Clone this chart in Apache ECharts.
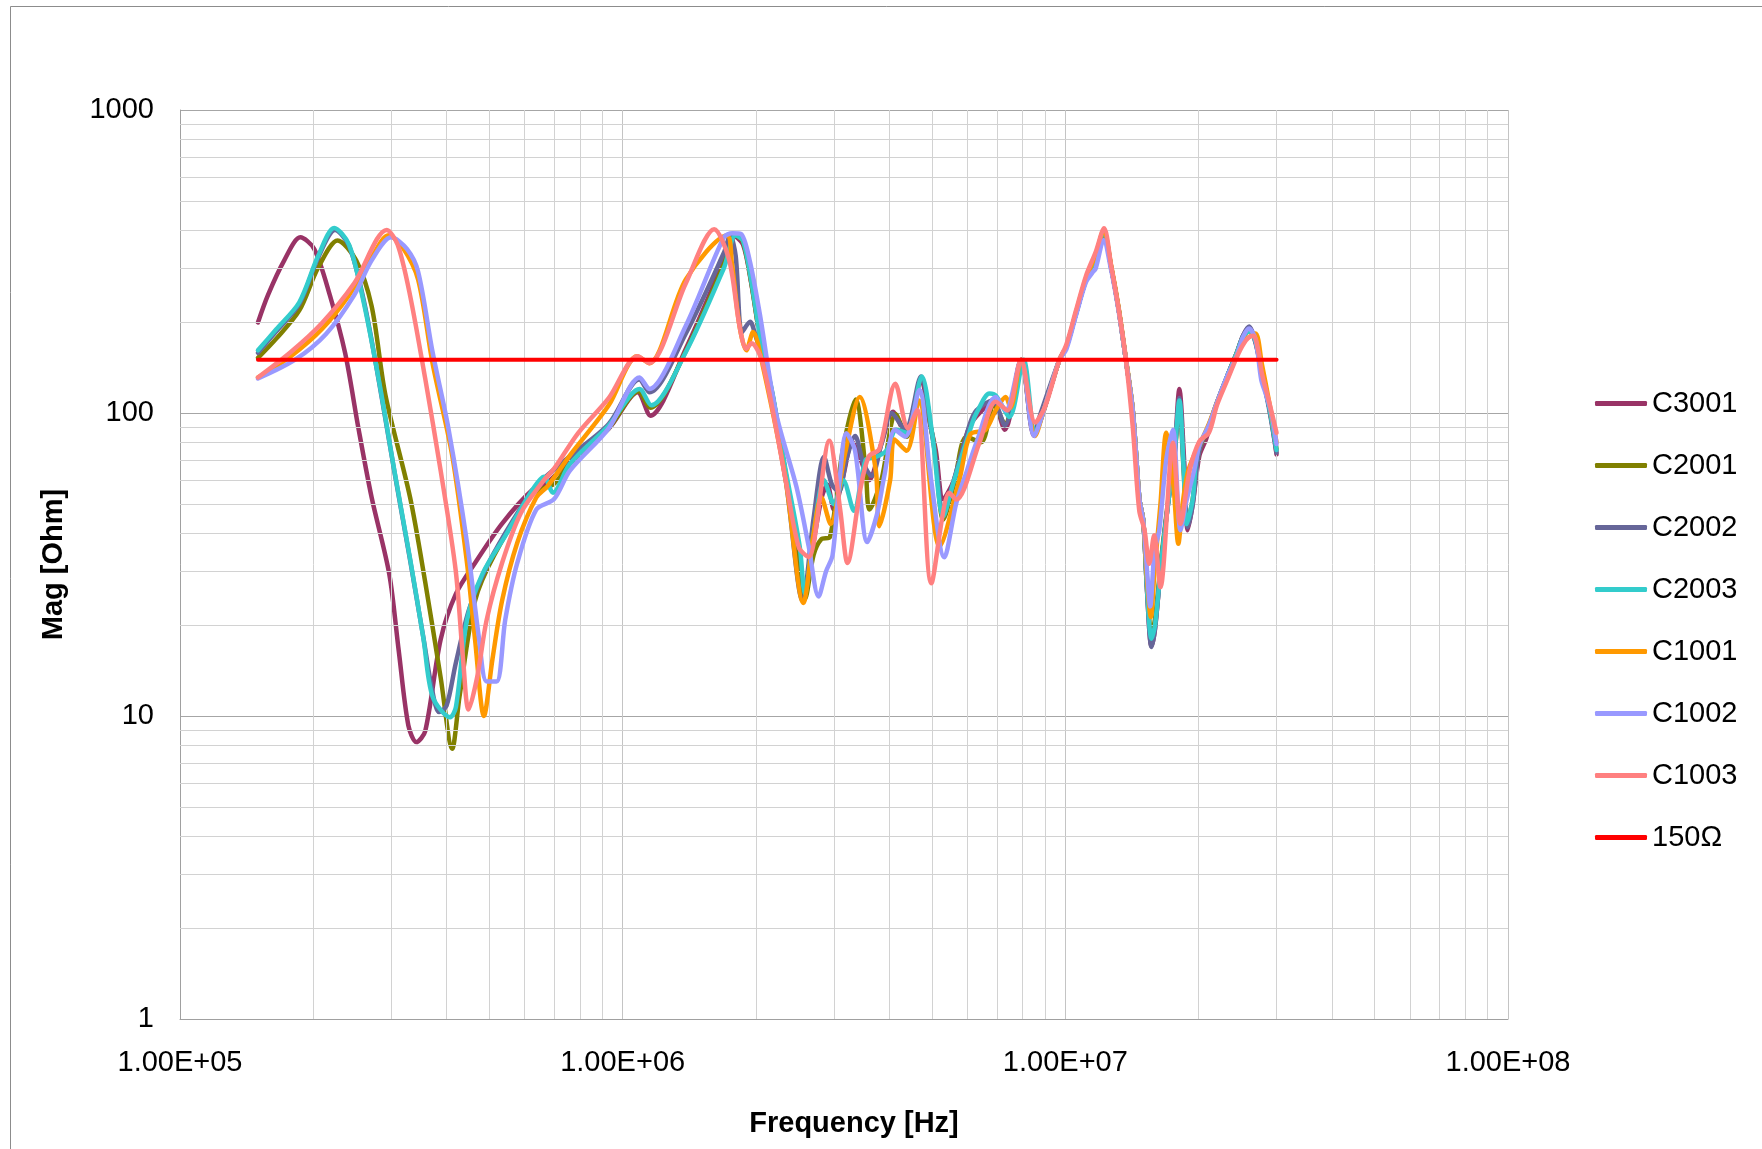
<!DOCTYPE html>
<html>
<head>
<meta charset="utf-8">
<script src="https://cdn.jsdelivr.net/npm/echarts@6/dist/echarts.min.js"></script>
<style>
html,body{margin:0;padding:0;background:#fff;}
#chart{width:1762px;height:1149px;}
</style>
</head>
<body>
<div id="chart"></div>
<script>
// Frequencies in MHz, magnitudes in Ohm
const seriesNames = ['C3001','C2001','C2002','C2003','C1001','C1002','C1003','150Ω'];

const C3001 = [[0.15,199],[0.158,245],[0.172,319],[0.187,380],[0.201,348],[0.218,245],[0.236,158],[0.253,89],[0.271,52.6],[0.297,29.4],[0.312,16.4],[0.328,9.3],[0.342,8.2],[0.358,8.9],[0.388,17.9],[0.42,25.3],[0.464,32],[0.533,43],[0.625,55.7],[0.677,59],[0.76,70],[0.93,88.7],[1.081,117],[1.155,98],[1.389,163],[1.693,319],[1.78,385],[1.87,360],[1.95,270],[2.05,172],[2.18,114],[2.32,67],[2.48,36],[2.56,24.5],[2.64,30],[2.72,40],[2.82,53],[2.9,58],[3.0,48],[3.15,62],[3.3,80],[3.45,70],[3.6,60],[3.85,80],[4.08,101],[4.35,86],[4.72,126],[4.98,88],[5.1,75],[5.3,52],[5.6,60],[6.07,90],[6.4,100],[6.85,108],[7.3,88],[7.95,150],[8.5,84],[8.9,100],[9.7,150],[10.05,165],[10.57,213],[11.13,275],[11.71,328],[12.2,395],[12.7,300],[13.2,219],[13.7,150],[14.2,102],[14.7,52],[15.0,44],[15.3,25.7],[15.65,17],[15.95,19.5],[16.5,33],[17.2,55],[17.6,70],[18.1,120],[18.55,70],[18.9,41],[19.4,50],[20.07,72],[20.8,82],[22.0,108],[23.2,132],[24.4,158],[25.2,180],[26.0,192],[26.9,170],[27.8,135],[28.9,104],[30.0,73]];

const C2001 = [[0.15,152],[0.165,176],[0.186,218],[0.205,301],[0.227,371],[0.25,319],[0.271,225],[0.291,115],[0.331,52.6],[0.358,27.7],[0.388,13.4],[0.412,7.8],[0.428,11.6],[0.464,24],[0.513,34],[0.625,54],[0.70,58.4],[0.76,68],[0.93,89],[1.085,118],[1.155,104],[1.389,160],[1.693,310],[1.8,385],[1.87,368],[1.95,272],[2.05,173],[2.18,115],[2.32,66],[2.48,35],[2.58,24.3],[2.7,34],[2.81,38.3],[2.94,39],[3.14,75],[3.36,110.7],[3.54,64.8],[3.61,48],[3.84,60],[4.14,99],[4.39,83.5],[4.67,119],[5.03,81.7],[5.3,44.5],[5.6,58],[5.98,83.5],[6.45,80],[6.9,106],[7.3,92],[7.95,150],[8.5,85],[8.9,100],[9.7,150],[10.05,165],[10.57,213],[11.13,275],[11.71,328],[12.2,398],[12.7,302],[13.2,219],[13.7,150],[14.2,102],[14.7,52],[15.0,44],[15.3,27],[15.65,18.5],[15.95,21],[16.5,34],[17.2,56],[17.6,70],[18.1,105],[18.5,65],[18.85,43],[19.4,52],[20.07,75],[21.1,90],[22.0,108],[23.2,132],[24.4,158],[25.2,178],[26.0,186],[26.9,175],[27.8,135],[28.9,104],[30.0,76]];

const C2002 = [[0.15,158],[0.165,186],[0.186,229],[0.205,325],[0.224,402],[0.241,356],[0.261,230],[0.282,125],[0.305,64],[0.33,33.5],[0.355,18],[0.37,12.5],[0.385,10.3],[0.40,10.8],[0.42,15],[0.45,22.5],[0.49,30.5],[0.545,40.5],[0.625,55.5],[0.665,61],[0.76,72],[0.93,92],[1.09,129],[1.15,117],[1.389,183],[1.693,338],[1.75,385],[1.80,330],[1.86,185],[1.94,200],[2.0,178],[2.075,150],[2.335,60],[2.55,24],[2.7,45],[2.85,71.6],[2.97,58],[3.08,55],[3.2,70],[3.35,84],[3.5,68],[3.65,62],[3.85,80],[4.05,100],[4.35,88],[4.72,132],[4.98,88],[5.1,70],[5.3,46],[5.6,60],[6.07,91],[6.3,102],[6.85,110],[7.3,91],[7.95,150],[8.5,86],[8.8,100],[9.7,150],[10.05,165],[10.57,213],[11.13,275],[11.71,328],[12.2,392],[12.7,300],[13.2,219],[13.7,150],[14.2,102],[14.7,52],[15.0,44],[15.3,25.7],[15.65,16.9],[15.95,19.5],[16.5,33],[17.2,55],[17.6,68],[18.1,112],[18.5,68],[18.9,42],[19.4,50],[20.07,75],[21.1,91],[22.0,108],[23.2,132],[24.4,158],[25.2,180],[26.0,193],[26.9,172],[27.8,135],[28.9,102],[30.0,74]];

const C2003 = [[0.15,161],[0.165,189],[0.186,232],[0.205,329],[0.223,408],[0.241,359],[0.26,232],[0.282,126],[0.305,64.5],[0.331,33],[0.355,17.9],[0.372,11.6],[0.4075,9.9],[0.42,10.7],[0.445,20.8],[0.482,29.4],[0.543,39.3],[0.625,55.7],[0.664,61.6],[0.696,54.6],[0.76,68],[0.93,91],[1.092,120],[1.16,106],[1.389,159],[1.693,301],[1.80,385],[1.87,370],[1.95,275],[2.05,174],[2.18,116],[2.32,68],[2.51,36.5],[2.58,25.3],[2.7,40],[2.85,60],[3.0,50],[3.15,60],[3.33,47.6],[3.54,70],[3.73,71.6],[3.94,75],[4.15,88],[4.38,86],[4.74,132],[5.0,86],[5.3,45.5],[5.57,58],[6.17,93],[6.3,100],[6.74,116],[6.97,114],[7.48,97],[8.05,150],[8.55,86],[8.9,100],[9.7,150],[10.05,165],[10.57,213],[11.13,275],[11.71,328],[12.2,396],[12.7,302],[13.2,219],[13.7,150],[14.2,102],[14.7,52],[15.0,44],[15.3,26],[15.65,18],[15.95,20],[16.5,33],[17.2,55],[17.6,70],[18.1,110],[18.5,66],[18.8,43],[19.4,52],[19.7,68],[20.07,78],[21.1,91],[22.0,108],[23.2,132],[24.4,158],[25.2,178],[26.0,186],[26.9,172],[27.8,135],[28.9,104],[30.0,75.5]];

const C1001 = [[0.15,131],[0.178,154],[0.209,189],[0.241,245],[0.266,310],[0.296,386],[0.318,353],[0.345,276],[0.372,146],[0.412,72.5],[0.445,32],[0.464,17.9],[0.486,10],[0.508,15.4],[0.534,24],[0.578,37.3],[0.638,52.6],[0.677,57.4],[0.76,72.5],[0.93,106],[1.078,154],[1.148,146],[1.389,276],[1.72,385],[1.765,312],[1.837,193],[1.903,161],[1.97,185],[2.075,142],[2.335,60],[2.56,23.6],[2.7,40],[2.81,52.7],[2.95,43],[3.18,73.6],[3.43,113],[3.73,64.8],[3.80,42.3],[4.02,60],[4.11,81.7],[4.38,75],[4.67,110],[5.2,36.3],[5.76,60],[6.1,85],[6.6,88],[6.96,102],[7.33,113],[7.52,104],[7.94,150],[8.55,84],[8.9,100],[9.7,150],[10.05,165],[10.57,215],[11.13,278],[11.71,332],[12.2,400],[12.7,305],[13.2,222],[13.7,152],[14.2,103],[14.7,52],[15.0,44],[15.3,28],[15.6,21.2],[15.9,30],[16.4,50],[16.9,86],[17.3,70],[17.6,55],[18.0,37],[18.4,50],[18.9,63.5],[19.5,72],[20.07,78],[21.1,92],[22.0,108],[23.2,130],[24.4,155],[25.2,172],[26.0,178],[26.9,183],[27.8,145],[28.9,108],[30.0,80]];

const C1002 = [[0.15,130],[0.182,150],[0.2135,182],[0.2475,245],[0.271,319],[0.30,380],[0.3255,348],[0.345,293],[0.372,159],[0.404,89],[0.445,37.3],[0.474,17.9],[0.493,13],[0.519,13],[0.543,20.8],[0.578,32],[0.638,48],[0.70,52],[0.76,64.5],[0.93,89],[1.092,131],[1.148,120],[1.389,194],[1.693,380],[1.77,392],[1.85,390],[1.935,320],[2.04,213],[2.22,100],[2.47,57],[2.63,36.5],[2.77,24.8],[2.88,30],[2.98,34],[3.09,60],[3.20,85.8],[3.35,75],[3.57,37.5],[3.75,46],[3.9,62],[4.12,88],[4.35,83.5],[4.68,119],[4.95,63.5],[5.33,33.4],[5.67,50.4],[6.0,64.8],[6.3,80],[6.96,113],[7.33,102],[7.94,150],[8.5,84],[8.9,100],[9.7,150],[10.05,162],[10.57,210],[11.13,270],[11.5,290],[11.71,300],[12.2,372],[12.7,295],[13.2,216],[13.7,150],[14.2,102],[14.7,52],[15.0,44],[15.3,30],[15.55,23],[15.9,35],[16.3,41],[16.9,70],[17.5,88],[18.2,41],[18.7,50],[19.6,66],[20.07,78],[21.1,91],[22.0,108],[23.2,132],[24.4,155],[25.2,178],[26.0,190],[26.9,175],[27.7,129],[28.4,115],[29.2,100],[30.0,79]];

const C1003 = [[0.15,131],[0.178,159],[0.2086,197],[0.2475,268],[0.2932,402],[0.3103,359],[0.3308,245],[0.358,130],[0.388,64.5],[0.4195,30.3],[0.436,15.4],[0.4485,10.5],[0.469,13.4],[0.493,20.8],[0.534,32],[0.589,46.8],[0.664,60],[0.70,65.5],[0.794,86],[0.93,112],[1.081,154],[1.148,146],[1.389,268],[1.61,404],[1.74,320],[1.837,193],[1.903,163],[1.955,170],[2.075,145],[2.335,60],[2.50,36],[2.63,33.5],[2.93,81],[3.10,48],[3.22,32],[3.45,57],[3.6,72],[3.8,76],[4.13,125],[4.41,89],[4.63,102.5],[4.98,27.4],[5.47,54.5],[5.67,51.8],[6.4,80],[6.96,109],[7.4,102],[7.94,150],[8.55,93],[9.0,105],[9.7,150],[10.05,168],[10.57,218],[11.13,283],[11.71,340],[12.23,407],[12.7,304],[13.2,219],[13.7,150],[14.2,90],[14.69,47.6],[15.1,41],[15.47,31.8],[15.87,39.5],[16.4,26.6],[17.5,79.7],[18.2,43],[19.1,64.8],[20.07,80.5],[21.1,86],[22.0,106],[23.2,128],[24.4,153],[25.2,168],[26.0,178],[26.6,180],[27.3,160],[27.8,135],[28.9,108],[30.0,86]];

const LIMIT = [[0.15,150],[30.0,150]];

const seriesData = [C3001, C2001, C2002, C2003, C1001, C1002, C1003, LIMIT];
const seriesColors = ['#993366','#808000','#666699','#33CCCC','#FF9900','#9999FF','#FF8080','#FF0000'];

const xDecades = [1e5, 1e6, 1e7];
const yDecades = [1, 10, 100];

const FONT = 'Liberation Sans, Arial, sans-serif';

const chart = echarts.init(document.getElementById('chart'), null, {renderer: 'canvas'});

const minorLines = [];
xDecades.forEach(d => { for (let k = 2; k <= 9; k++) minorLines.push({xAxis: k * d}); });
yDecades.forEach(d => { for (let k = 2; k <= 9; k++) minorLines.push({yAxis: k * d}); });

const series = [{
  name: '_grid', type: 'line', data: [], z: 1, silent: true,
  markLine: {
    silent: true, symbol: ['none', 'none'], animation: false,
    label: {show: false},
    lineStyle: {type: 'solid', color: '#d2d2d2', width: 1},
    emphasis: {disabled: true},
    data: minorLines
  }
}];

seriesNames.forEach((n, i) => {
  const isLimit = i === seriesNames.length - 1;
  series.push({
    name: n,
    type: 'line',
    data: seriesData[i].map(p => [p[0] * 1e6, p[1]]),
    showSymbol: false,
    symbol: 'none',
    smooth: isLimit ? false : 0.3,
    z: 3 + i,
    color: seriesColors[i],
    lineStyle: {width: isLimit ? 4 : 4.5, color: seriesColors[i], cap: 'round', join: 'round'},
    emphasis: {disabled: true},
    animation: false
  });
});

function expLabel(v) {
  const e = Math.round(Math.log10(v));
  const m = v / Math.pow(10, e);
  return m.toFixed(2) + 'E+' + String(e).padStart(2, '0');
}

chart.setOption({
  backgroundColor: '#ffffff',
  animation: false,
  graphic: [{
    type: 'rect', silent: true,
    shape: {x: 10.5, y: 6.5, width: 1800, height: 1200},
    style: {fill: 'none', stroke: '#8c8c8c', lineWidth: 1},
    z: -1
  }],
  grid: {left: 180, right: 254, top: 110, bottom: 130, containLabel: false},
  legend: {
    orient: 'vertical',
    left: 1590,
    top: 384,
    itemWidth: 52,
    itemHeight: 5,
    itemGap: 33,
    icon: 'roundRect',
    selectedMode: false,
    data: seriesNames,
    textStyle: {fontSize: 29, color: '#000', fontFamily: FONT}
  },
  xAxis: {
    type: 'log', logBase: 10, min: 1e5, max: 1e8,
    name: 'Frequency [Hz]', nameLocation: 'middle', nameGap: 90,
    nameTextStyle: {fontSize: 29, fontWeight: 'bold', color: '#000', fontFamily: FONT, padding: [0, 0, 0, 20]},
    axisLine: {show: true, lineStyle: {color: '#a0a0a0', width: 1}},
    axisTick: {show: false},
    axisLabel: {fontSize: 29, color: '#000', fontFamily: FONT, margin: 29, formatter: expLabel, showMinLabel: true, showMaxLabel: true},
    splitLine: {show: true, lineStyle: {color: '#c4c4c4', width: 1}},
    minorTick: {show: false},
    minorSplitLine: {show: false}
  },
  yAxis: {
    type: 'log', logBase: 10, min: 1, max: 1000,
    name: 'Mag [Ohm]', nameLocation: 'middle', nameGap: 112,
    nameTextStyle: {fontSize: 29, fontWeight: 'bold', color: '#000', fontFamily: FONT},
    axisLine: {show: true, lineStyle: {color: '#a0a0a0', width: 1}},
    axisTick: {show: false},
    axisLabel: {fontSize: 29, color: '#000', fontFamily: FONT, margin: 26, formatter: v => String(Math.round(v))},
    splitLine: {show: true, lineStyle: {color: '#a6a6a6', width: 1}},
    minorTick: {show: false},
    minorSplitLine: {show: false}
  },
  series: series
});
</script>
</body>
</html>
